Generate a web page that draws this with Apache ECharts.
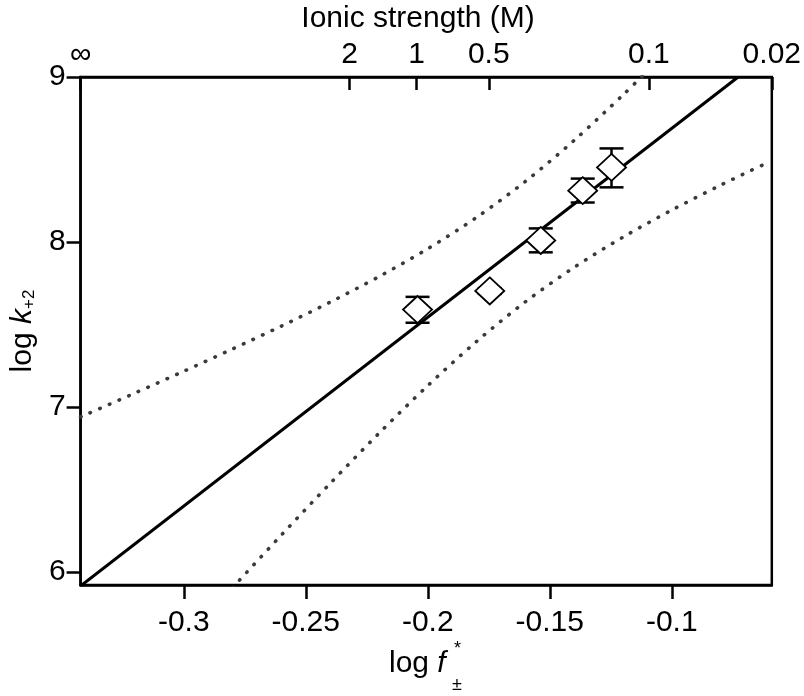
<!DOCTYPE html>
<html>
<head>
<meta charset="utf-8">
<script src="https://cdn.jsdelivr.net/npm/echarts@6/dist/echarts.min.js"></script>
<style>
html,body{margin:0;padding:0;background:#fff;}
#chart{width:804px;height:696px;}
</style>
</head>
<body>
<div id="chart"></div>
<script>
// ---- data ----
const xMin = -0.3423, xMax = -0.059;
const yMin = 5.92, yMax = 9;
const bottomTicks = [-0.3, -0.25, -0.2, -0.15, -0.1];
const leftTicks = [6, 7, 8, 9];
const topTickValues = [-0.3423, -0.232, -0.2046, -0.175, -0.1094, -0.059];
const topTickLabels = ['\u221E', '2', '1', '0.5', '0.1', '0.02'];

const pointX = [-0.2042, -0.1746, -0.1537, -0.1365, -0.1247];
const pointY = [7.590, 7.703, 8.009, 8.311, 8.452];
const errLow = [7.510, 7.685, 7.937, 8.239, 8.331];
const errHigh = [7.667, 7.720, 8.082, 8.384, 8.567];

const fitX = [-0.3423, -0.0728];
const fitY = [5.914, 9.0];

const upperX = [-0.3423, -0.32, -0.30, -0.28, -0.26, -0.24, -0.22, -0.20, -0.18, -0.16, -0.14, -0.12, -0.11];
const upperY = [6.939, 7.084, 7.216, 7.351, 7.490, 7.635, 7.790, 7.959, 8.149, 8.367, 8.616, 8.891, 9.036];
const lowerX = [-0.28, -0.26, -0.24, -0.22, -0.20, -0.18, -0.16, -0.14, -0.12, -0.10, -0.08, -0.063];
const lowerY = [5.904, 6.223, 6.536, 6.840, 7.129, 7.397, 7.637, 7.846, 8.029, 8.193, 8.344, 8.465];

// ---- chart ----
const FONT = 'Liberation Sans, Arial, sans-serif';
const FS = 30;
const chart = echarts.init(document.getElementById('chart'), null, {renderer: 'canvas'});
const zip = (a, b) => a.map((v, i) => [v, b[i]]);
const dotted = {color: '#3a3a3a', width: 3.6, type: [0.5, 10], cap: 'round'};

const option = {
  animation: false,
  backgroundColor: '#fff',
  textStyle: {fontFamily: FONT},
  title: {
    text: 'Ionic strength (M)',
    left: 413, top: -1, textAlign: 'center',
    textStyle: {fontFamily: FONT, fontSize: FS, fontWeight: 'normal', color: '#000'}
  },
  grid: {left: 80, right: 32, top: 77, bottom: 111, show: true, borderColor: '#000', borderWidth: 2.5, containLabel: false},
  xAxis: [
    {
      type: 'value', min: xMin, max: xMax, position: 'bottom',
      axisLine: {show: true, onZero: false, lineStyle: {color: '#000', width: 2.5}},
      axisTick: {show: true, inside: false, length: 14, customValues: bottomTicks, lineStyle: {color: '#000', width: 2.5}},
      axisLabel: {customValues: bottomTicks, margin: 23, fontSize: FS, color: '#000', fontFamily: FONT,
        formatter: v => String(+v.toFixed(2))},
      splitLine: {show: false}
    },
    {
      type: 'value', min: xMin, max: xMax, position: 'top',
      axisLine: {show: true, onZero: false, lineStyle: {color: '#000', width: 2.5}},
      axisTick: {show: true, inside: true, length: 13, customValues: topTickValues, lineStyle: {color: '#000', width: 2.5}},
      axisLabel: {customValues: topTickValues, margin: 7, fontSize: FS, color: '#000', fontFamily: FONT,
        showMinLabel: true, showMaxLabel: true, hideOverlap: false,
        formatter: v => {
          let best = 0;
          topTickValues.forEach((t, i) => { if (Math.abs(t - v) < Math.abs(topTickValues[best] - v)) best = i; });
          return topTickLabels[best];
        }},
      splitLine: {show: false}
    }
  ],
  yAxis: {
    type: 'value', min: yMin, max: yMax,
    axisLine: {show: true, onZero: false, lineStyle: {color: '#000', width: 2.5}},
    axisTick: {show: true, inside: false, length: 14, customValues: leftTicks, lineStyle: {color: '#000', width: 2.5}},
    axisLabel: {customValues: leftTicks, margin: 15, fontSize: FS, color: '#000', fontFamily: FONT},
    splitLine: {show: false},
    name: '{n|log }{i|k}{s|+2}',
    nameLocation: 'middle', nameRotate: 90, nameGap: 40,
    nameTextStyle: {
      color: '#000', fontFamily: FONT,
      rich: {
        n: {fontSize: FS, fontFamily: FONT, color: '#000', lineHeight: 40, verticalAlign: 'bottom'},
        i: {fontSize: FS, fontFamily: FONT, fontStyle: 'italic', color: '#000', lineHeight: 40, verticalAlign: 'bottom'},
        s: {fontSize: 17, fontFamily: FONT, color: '#000', lineHeight: 18, verticalAlign: 'bottom'}
      }
    }
  },
  graphic: [
    {type: 'text', left: 389, top: 649, style: {
      text: '{n|log }{i|f}', fill: '#000',
      rich: {
        n: {fontSize: FS, fontFamily: FONT, fill: '#000'},
        i: {fontSize: FS, fontFamily: FONT, fontStyle: 'italic', fill: '#000'}
      }}},
    {type: 'text', left: 454, top: 640, style: {text: '*', fontSize: 18, fontFamily: FONT, fill: '#000'}},
    {type: 'text', left: 452, top: 676, style: {text: '\u00B1', fontSize: 18, fontFamily: FONT, fill: '#000'}}
  ],
  series: [
    {type: 'line', data: zip(upperX, upperY), showSymbol: false, smooth: 0.3, clip: true, lineStyle: dotted, z: 2, silent: true},
    {type: 'line', data: zip(lowerX, lowerY), showSymbol: false, smooth: 0.3, clip: true, lineStyle: dotted, z: 2, silent: true},
    {type: 'line', data: zip(fitX, fitY), showSymbol: false, clip: true, lineStyle: {color: '#000', width: 3}, z: 3, silent: true},
    {
      type: 'custom', z: 4, silent: true,
      data: pointX.map((x, i) => [x, errLow[i], errHigh[i]]),
      encode: {x: 0, y: [1, 2]},
      renderItem: (params, api) => {
        const x = api.value(0);
        const lo = api.coord([x, api.value(1)]);
        const hi = api.coord([x, api.value(2)]);
        const hw = 12;
        const st = {stroke: '#000', lineWidth: 2.5};
        return {type: 'group', children: [
          {type: 'line', shape: {x1: lo[0], y1: lo[1], x2: hi[0], y2: hi[1]}, style: st},
          {type: 'line', shape: {x1: lo[0] - hw, y1: lo[1], x2: lo[0] + hw, y2: lo[1]}, style: st},
          {type: 'line', shape: {x1: hi[0] - hw, y1: hi[1], x2: hi[0] + hw, y2: hi[1]}, style: st}
        ]};
      }
    },
    {type: 'scatter', data: zip(pointX, pointY), symbol: 'diamond', symbolSize: [29, 27], z: 5, silent: true,
      itemStyle: {color: '#fff', borderColor: '#000', borderWidth: 1.8, opacity: 1}}
  ]
};
chart.setOption(option);
</script>
</body>
</html>
